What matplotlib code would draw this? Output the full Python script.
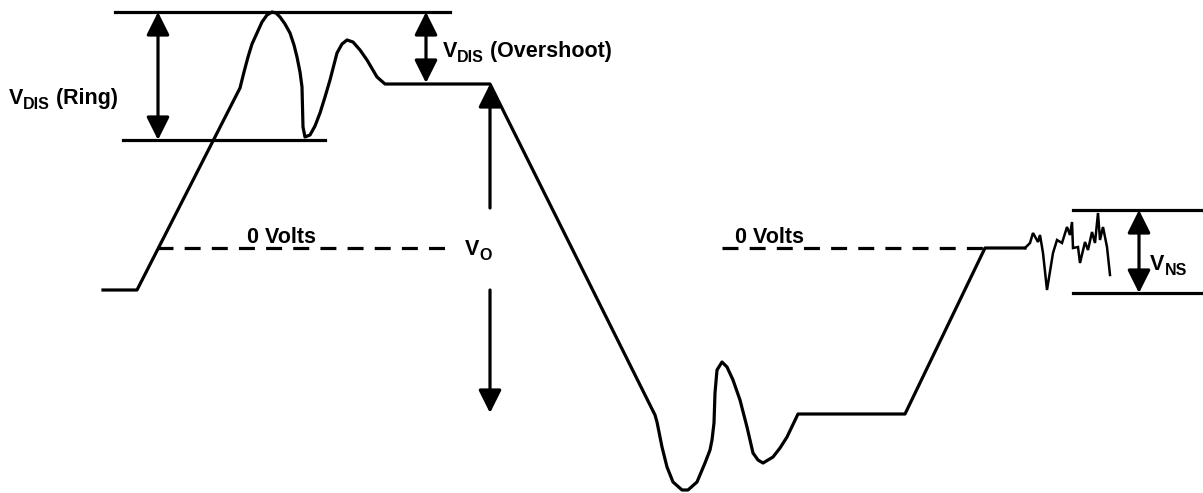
import matplotlib.pyplot as plt

plt.rcParams['font.family'] = ['Liberation Sans', 'DejaVu Sans']

# waveform (pixel coords, y grows downward)
wave_x = [103, 137, 240, 244, 248, 252, 257, 262, 267, 272, 276, 280, 285, 290, 294, 297,
          300, 302, 303, 305, 310, 315, 320, 325, 330, 337, 342, 347, 353, 360, 367, 377,
          385, 490, 655, 657, 662, 667, 673, 682, 688, 697, 705, 710, 712, 714, 715, 717,
          722, 727, 733, 740, 747, 753, 758, 763, 773, 780, 787, 798, 905, 985, 1025]
wave_y = [290, 290, 88, 72, 57, 44, 33, 22, 15, 12, 13, 17, 24, 33, 45, 57,
          72, 87, 127, 137, 135, 126, 113, 97, 80, 53, 44, 40, 42, 50, 60, 77,
          84, 84, 415, 422, 447, 467, 482, 490, 490, 482, 463, 450, 440, 423, 393, 370,
          362, 367, 380, 400, 427, 453, 460, 463, 457, 448, 437, 414, 414, 248, 248]

noise_x = [1025, 1030, 1033, 1038, 1040, 1043, 1047, 1053, 1057, 1062, 1067, 1070,
           1072, 1073, 1078, 1080, 1085, 1088, 1092, 1095, 1098, 1100, 1103, 1107, 1110]
noise_y = [248, 243, 233, 242, 235, 253, 290, 253, 240, 243, 227, 235,
           222, 248, 247, 263, 242, 250, 232, 243, 213, 240, 227, 247, 275]

zero_y = 248
lw = 2.3

fig = plt.figure(figsize=(12.03, 4.93), dpi=100)
ax = fig.add_axes([0, 0, 1, 1])
ax.set_xlim(0, 1203)
ax.set_ylim(493, 0)
ax.axis('off')

ax.plot(wave_x, wave_y, color='black', lw=lw, solid_joinstyle='round')
ax.plot(noise_x, noise_y, color='black', lw=1.8, solid_joinstyle='miter')

# reference lines
ax.plot([115, 450], [12, 12], color='black', lw=lw)
ax.plot([123, 325], [140, 140], color='black', lw=lw)
ax.plot([1073, 1203], [210, 210], color='black', lw=lw)
ax.plot([1073, 1203], [293, 293], color='black', lw=lw)

# 0 V dashed lines
ax.plot([157, 450], [zero_y, zero_y], color='black', lw=lw, dashes=(5, 3.5))
ax.plot([722, 985], [zero_y, zero_y], color='black', lw=lw, dashes=(5, 3.5))


def arrow(x0, y0, x1, y1, style):
    ax.annotate('', xy=(x1, y1), xytext=(x0, y0),
                arrowprops=dict(arrowstyle=style + ',head_length=14,head_width=7',
                                mutation_scale=1, color='black', lw=lw,
                                shrinkA=0, shrinkB=0))


arrow(158, 12, 158, 140, '<|-|>')
arrow(426, 12, 426, 83, '<|-|>')
arrow(1139, 210, 1139, 293, '<|-|>')
arrow(490, 208, 490, 84, '-|>')
arrow(490, 290, 490, 413, '-|>')

renderer = fig.canvas.get_renderer()
fs, fs_sub = 15.5, 11.5


def label(x, y, sub, rest=''):
    # 1 data unit == 1 pixel here, so extents can be added straight on
    t = ax.text(x, y, 'V', fontsize=fs, fontweight='bold', va='baseline')
    x += t.get_window_extent(renderer).width
    s = ax.text(x, y + 5, sub, fontsize=fs_sub, fontweight='bold', va='baseline')
    x += s.get_window_extent(renderer).width
    if rest:
        ax.text(x, y, ' ' + rest, fontsize=fs, fontweight='bold', va='baseline')


label(9, 104, 'DIS', '(Ring)')
label(443, 57, 'DIS', '(Overshoot)')
label(465, 255, 'O')
label(1150, 270, 'NS')
ax.text(247, 243, '0 Volts', fontsize=fs, fontweight='bold', va='baseline')
ax.text(735, 243, '0 Volts', fontsize=fs, fontweight='bold', va='baseline')

fig.savefig('out.png', dpi=100)
